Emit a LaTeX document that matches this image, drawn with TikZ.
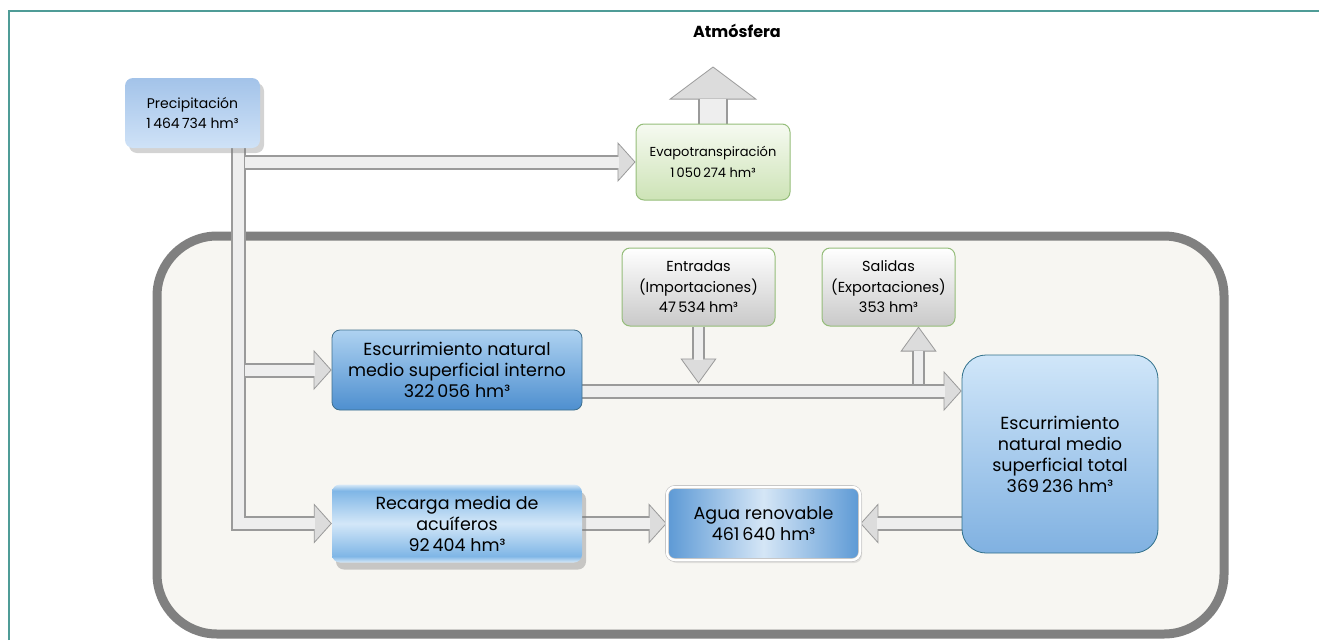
\documentclass[tikz,border=0pt]{standalone}
\usepackage{fontspec}
\setmainfont{Poppins}
\usetikzlibrary{arrows.meta,shadows,backgrounds}

\definecolor{frameteal}{HTML}{4F9C97}
\definecolor{framegray}{HTML}{808080}
\definecolor{landfill}{HTML}{F7F6F2}
\definecolor{pipeedge}{HTML}{9A9A9A}
\definecolor{pipefill}{HTML}{EEEEEE}
\definecolor{pipehead}{HTML}{DCDCDC}
\definecolor{greenedge}{HTML}{95BD7A}
\definecolor{prectop}{HTML}{A3C3E9}
\definecolor{precbot}{HTML}{CFE2F7}
\definecolor{evaptop}{HTML}{F6FAF1}
\definecolor{evapbot}{HTML}{CDE3B6}
\definecolor{greybot}{HTML}{C9C9C9}
\definecolor{intredge}{HTML}{3F6F8C}
\definecolor{intrtop}{HTML}{AED2F1}
\definecolor{intrbot}{HTML}{4E8FCF}
\definecolor{recedge}{HTML}{7FB6E6}
\definecolor{recmid}{HTML}{D3E7F8}
\definecolor{aguaside}{HTML}{5C99D5}
\definecolor{aguamid}{HTML}{D5E6F6}
\definecolor{totaledge}{HTML}{2F6F8A}
\definecolor{totaltop}{HTML}{D0E6F9}
\definecolor{totalbot}{HTML}{80B1E1}

\pgfdeclareverticalshading{recshade}{100bp}{color(0bp)=(white!70!recedge); color(25bp)=(white!70!recedge); color(29bp)=(recedge); color(50bp)=(recmid); color(71bp)=(recedge); color(75bp)=(white!70!recedge); color(100bp)=(white!70!recedge)}
\pgfdeclarehorizontalshading{aguashade}{100bp}{color(0bp)=(aguaside); color(25bp)=(aguaside); color(50bp)=(aguamid); color(75bp)=(aguaside); color(100bp)=(aguaside)}

\begin{document}
\begin{tikzpicture}[x=1pt, y=-1pt,
    every node/.style={align=center, inner sep=0pt, rounded corners=8pt},
    small text/.style={font=\fontsize{#1}{20.5}\selectfont},
    big text/.style={font=\fontsize{17.5}{21}\selectfont},
    precbox/.style={top color=prectop, bottom color=precbot, drop shadow={shadow xshift=4pt, shadow yshift=-5pt, opacity=.35}},
    evapbox/.style={draw=greenedge, line width=1pt, top color=evaptop, bottom color=evapbot},
    greybox/.style={draw=greenedge, line width=1pt, top color=white, bottom color=greybot},
    intrbox/.style={draw=intredge, line width=0.8pt, top color=intrtop, bottom color=intrbot},
    recbox/.style={shading=recshade, drop shadow={shadow xshift=4pt, shadow yshift=-7pt, opacity=.4}},
    aguabox/.style={draw=black!25, double=white, double distance=2.5pt, line width=0.6pt, shading=aguashade, drop shadow={shadow xshift=2pt, shadow yshift=-3pt, opacity=.2}},
    totalbox/.style={draw=totaledge, line width=0.8pt, top color=totaltop, bottom color=totalbot, rounded corners=24pt},
    pipe/.style={draw=pipeedge, line width=15pt, -{Triangle[length=18pt,width=40pt,line width=0.8pt,fill=pipehead]}, postaction={draw=pipefill, line width=11pt, -, shorten >=17pt}},
    thinpipe/.style={draw=pipeedge, line width=13pt, -{Triangle[length=25pt,width=36pt,line width=0.8pt,fill=pipehead]}, postaction={draw=pipefill, line width=9.5pt, -, shorten >=24pt}},
    bigpipe/.style={draw=pipeedge, line width=30pt, -{Triangle[length=33pt,width=88pt,line width=0.8pt,fill=pipehead]}, postaction={draw=pipefill, line width=26pt, -, shorten >=32pt}}
  ]
    \useasboundingbox (0,0) rectangle (1319,640);

    \node[font=\bfseries\fontsize{16}{19}\selectfont] (atm) at (737,31) {Atmósfera};

    \node[precbox, small text=14, minimum width=135pt, minimum height=70pt] (prec) at (192.5,113) {Precipitación\\1\,464\,734 hm³};
    \node[evapbox, small text=13, minimum width=154pt, minimum height=76pt] (evap) at (713,162) {Evapotranspiración\\1\,050\,274 hm³};

    \node[greybox, small text=14.5, minimum width=153pt, minimum height=78pt] (entr) at (698.5,287) {Entradas\\(Importaciones)\\47\,534 hm³};
    \node[greybox, small text=14.5, minimum width=133pt, minimum height=78pt] (sal) at (888.5,287) {Salidas\\(Exportaciones)\\353 hm³};
    \node[intrbox, big text, minimum width=250pt, minimum height=80pt] (intr) at (457,370) {Escurrimiento natural\\medio superficial interno\\322\,056 hm³};
    \node[totalbox, big text, minimum width=196pt, minimum height=198pt] (total) at (1060,454) {Escurrimiento\\natural medio\\superficial total\\369\,236 hm³};
    \node[recbox, big text, minimum width=250pt, minimum height=78pt] (rec) at (457,523.5) {Recarga media de\\acuíferos\\92\,404 hm³};
    \node[aguabox, big text, minimum width=193pt, minimum height=73pt] (agua) at (763.5,523.5) {Agua renovable\\461\,640 hm³};

    \coordinate (trunk) at ([xshift=45.5pt]prec.south);
    \coordinate (fl) at ([yshift=-21pt]intr.east);
    \coordinate (fltop) at ([yshift=7.5pt]fl);
    \coordinate (salx) at ([xshift=30pt]sal.south);

    \begin{scope}[on background layer]
      \draw[draw=framegray, fill=landfill, line width=9pt, rounded corners=60pt] (157,236) rectangle (1224,634);
      \draw[frameteal, line width=2pt] (9,640) -- (9,11) -- (1319,11);

      \draw[pipe] (trunk) |- (rec.west);
      \draw[pipe, shorten <=7pt] (trunk |- evap.west) -- (evap.west);
      \draw[pipe, shorten <=7pt] (trunk |- intr.west) -- (intr.west);
      \draw[pipe] (fl) -- (fl -| total.west);
      \draw[thinpipe] (entr.south) -- (entr.south |- fltop);
      \draw[thinpipe] (salx |- fltop) -- (salx);
      \draw[pipe] (rec.east) -- (agua.west);
      \draw[pipe] (total.west |- agua.east) -- (agua.east);
      \draw[bigpipe] (evap.north) -- ++(0,-57);
    \end{scope}
  \end{tikzpicture}
\end{document}
